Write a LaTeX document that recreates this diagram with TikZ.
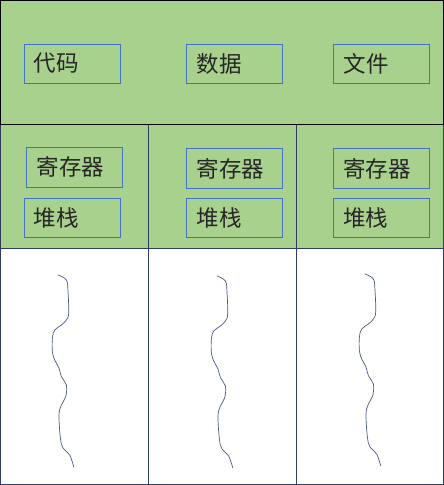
\documentclass[tikz,border=0pt]{standalone}
\usepackage{fontspec}
\newfontfamily\cjk{Noto Sans CJK SC}
\definecolor{cellgreen}{RGB}{169,209,142}
\definecolor{boxblue}{RGB}{68,114,196}
\definecolor{gridnavy}{RGB}{47,62,95}
\definecolor{crackblue}{RGB}{72,88,140}
\tikzset{
  membox/.style={draw=boxblue,line width=0.6pt,minimum height=39pt,text width=76pt,
    inner xsep=10pt,inner ysep=0pt,align=left,text=black!85,font=\cjk\fontsize{22.5}{22.5}\selectfont},
  crack/.style={draw=crackblue,line width=0.7pt,line cap=round},
}
\begin{document}
\begin{tikzpicture}[x=1pt,y=-1pt]
        \useasboundingbox (0,0) rectangle (444,485);
        % thread cells
        \foreach \xa/\xb in {0.5/148,148/296,296/443.5}{
          \path [draw=gridnavy,fill=cellgreen,line width=0.8pt] (\xa,124.5) rectangle (\xb,248);
          \path [draw=gridnavy,fill=white,line width=0.8pt] (\xa,248) rectangle (\xb,484.5);
        }
        % shared part
        \path [draw=black,fill=cellgreen,line width=0.8pt] (0.5,0.5) rectangle (443.5,124.5);
        \node[membox] (code) at (72,63.5) {代码};
        \node[membox] (data) at (234.5,63.5) {数据};
        \node[membox] (file) at (381.5,63.5) {文件};
        \node[membox,minimum height=40pt] (reg1) at (74.5,167) {寄存器};
        \node[membox,minimum height=40pt] (reg2) at (234.5,168.5) {寄存器};
        \node[membox,minimum height=40pt] (reg3) at (381,168.5) {寄存器};
        \node[membox] (stack1) at (72,217.5) {堆栈};
        \node[membox] (stack2) at (234.5,217.5) {堆栈};
        \node[membox] (stack3) at (381,217.5) {堆栈};
        \foreach \dx/\dy in {58/275,217/276,365/274}
          \draw[crack,shift={(\dx,\dy)}] plot[smooth,tension=0.6] coordinates {
            (0,0) (8.4,5) (10,16.7) (10.7,38) (8.4,45) (3.4,50) (-3.3,55) (-5.6,63)
            (-5.6,76.7) (-3.3,85) (1,93) (3.4,101.7) (8.4,110) (7.7,121.7) (3.4,130)
            (1,140) (2.4,163) (5,173) (11.7,180) (15.7,191.7)};
      \end{tikzpicture}
\end{document}
